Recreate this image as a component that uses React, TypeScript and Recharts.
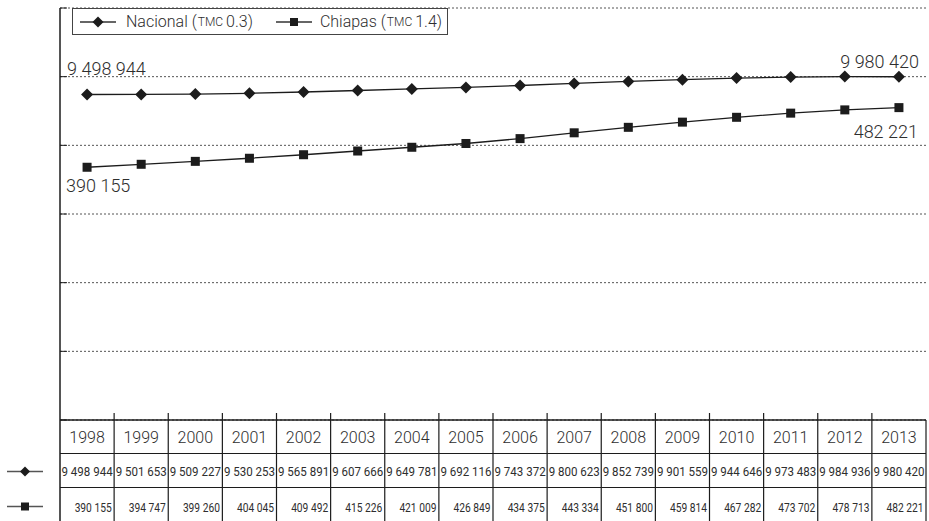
import React from "react"
import { LineChart, Line, XAxis, YAxis, CartesianGrid, Legend, LabelList } from "recharts"

const years = ["1998", "1999", "2000", "2001", "2002", "2003", "2004", "2005", "2006", "2007", "2008", "2009", "2010", "2011", "2012", "2013"]
const nacional = [9498944, 9501653, 9509227, 9530253, 9565891, 9607666, 9649781, 9692116, 9743372, 9800623, 9852739, 9901559, 9944646, 9973483, 9984936, 9980420]
const chiapas = [390155, 394747, 399260, 404045, 409492, 415226, 421009, 426849, 434375, 443334, 451800, 459814, 467282, 473702, 478713, 482221]
const seriesNames = ["Nacional", "Chiapas"]
const seriesTmc = ["0.3", "1.4"]
const chiapasTicks = [0, 106000, 212000, 318000, 424000, 530000, 636000]

const data = years.map((year, i) => ({ year, nacional: nacional[i], chiapas: chiapas[i] }))

const FONT = "Roboto, Lato, sans-serif"
const WEIGHT = 300
const TEXT = "#2e2e2e"
const INK = "#1c1c1c"
const PLOT_LEFT = 60
const PLOT_RIGHT = 926
const colW = (PLOT_RIGHT - PLOT_LEFT) / years.length

const fmt = (v: number) => String(v).replace(/\B(?=(\d{3})+(?!\d))/g, " ")

const diamondPath = (cx: number, cy: number, r: number) =>
  `M${cx},${cy - r}L${cx + r},${cy}L${cx},${cy + r}L${cx - r},${cy}Z`

const DiamondDot = (p: any) => (
  <path key={`nd-${p.index}`} d={diamondPath(p.cx, p.cy, 6)} fill={INK} stroke="none" />
)
const SquareDot = (p: any) => (
  <rect key={`cd-${p.index}`} x={p.cx - 4.5} y={p.cy - 4.5} width={9} height={9} fill={INK} />
)

const labelText = (x: number, y: number, anchor: string, value: number) => (
  <text x={x} y={y} textAnchor={anchor} fontFamily={FONT} fontWeight={WEIGHT} fontSize={18} fill={TEXT}>
    {fmt(value)}
  </text>
)

const NacionalLabel = (p: any) => {
  const { x, y, index, value } = p
  if (index === 0) return labelText(x - 20, y - 19, "start", value)
  if (index === years.length - 1) return labelText(x + 20, y - 9, "end", value)
  return null
}

const ChiapasLabel = (p: any) => {
  const { x, y, index, value } = p
  if (index === 0) return labelText(x - 21, y + 25, "start", value)
  if (index === years.length - 1) return labelText(x + 19, y + 30, "end", value)
  return null
}

// table under the plot, one column per year
const TableTick = (p: any) => {
  const { x, y, index, payload } = p
  const left = x - colW / 2
  const right = x + colW / 2
  const r1 = y + 33.5
  const r2 = y + 67.5
  const last = index === years.length - 1
  return (
    <g>
      {!last && <line x1={right} x2={right} y1={y - 7} y2={y} stroke={INK} strokeWidth={1.2} />}
      <line x1={right} x2={right} y1={y} y2={y + 110} stroke={INK} strokeWidth={1.2} />
      {index === 0 && <line x1={left} x2={left} y1={y} y2={y + 110} stroke={INK} strokeWidth={1.5} />}
      <line x1={left} x2={right} y1={r1} y2={r1} stroke={INK} strokeWidth={1} />
      <line x1={left} x2={right} y1={r2} y2={r2} stroke={INK} strokeWidth={1} />
      <text x={x} y={y + 23} textAnchor="middle" fontFamily={FONT} fontWeight={WEIGHT} fontSize={16} fill={TEXT}>
        {payload.value}
      </text>
      <text x={left + 1.5} y={y + 56} textLength={colW - 3} lengthAdjust="spacingAndGlyphs" fontFamily={FONT} fontSize={13} fill={TEXT}>
        {fmt(nacional[index])}
      </text>
      <text x={right - 39.5} y={y + 92} textLength={37} lengthAdjust="spacingAndGlyphs" fontFamily={FONT} fontSize={13} fill={TEXT}>
        {fmt(chiapas[index])}
      </text>
      {index === 0 && (
        <g>
          <line x1={7} x2={43} y1={y + 51.5} y2={y + 51.5} stroke="#555" strokeWidth={1.5} />
          <path d={diamondPath(25, y + 51.5, 5)} fill={INK} />
          <line x1={7} x2={43} y1={y + 86.5} y2={y + 86.5} stroke="#555" strokeWidth={1.5} />
          <rect x={21} y={y + 82.5} width={8} height={8} fill={INK} />
        </g>
      )}
    </g>
  )
}

const HiddenTick = () => <g />

const LegendBox = () => (
  <div
    style={{
      width: 376,
      height: 27,
      boxSizing: "border-box",
      border: "1px solid #444",
      background: "#fff",
      display: "flex",
      alignItems: "center",
      fontFamily: FONT,
      fontWeight: WEIGHT,
      fontSize: 16,
      color: TEXT,
      whiteSpace: "nowrap",
    }}
  >
    {seriesNames.map((name, i) => (
      <span key={name} style={{ display: "flex", alignItems: "center", marginLeft: i === 0 ? 6 : 22 }}>
        <svg width={38} height={14} style={{ marginRight: i === 0 ? 9 : 7 }}>
          <line x1={1} x2={37} y1={7} y2={7} stroke="#333" strokeWidth={1.3} />
          {i === 0 ? <path d={diamondPath(19, 7, 5.5)} fill={INK} /> : <rect x={15} y={3} width={8} height={8} fill={INK} />}
        </svg>
        {name} (<span style={{ fontSize: 12, margin: "0 3px 0 1px" }}>TMC</span>{seriesTmc[i]})
      </span>
    ))}
  </div>
)

export default function App() {
  return (
    <div style={{ position: "absolute", left: 0, top: 0, background: "#fff" }}>
      <LineChart width={929} height={521} data={data} margin={{ top: 8, right: 3, bottom: 0, left: PLOT_LEFT }}>
        <CartesianGrid yAxisId="chi" vertical={false} stroke="#555" strokeDasharray="2 2" />
        <XAxis
          dataKey="year"
          interval={0}
          height={101}
          padding={{ left: colW / 2, right: colW / 2 }}
          tickLine={false}
          tickSize={0}
          tickMargin={0}
          axisLine={{ stroke: INK, strokeWidth: 1.5 }}
          tick={<TableTick />}
        />
        <YAxis
          yAxisId="chi"
          mirror
          width={20}
          domain={[0, 636000]}
          ticks={chiapasTicks}
          interval={0}
          tick={<HiddenTick />}
          tickSize={7}
          tickLine={{ stroke: INK }}
          axisLine={{ stroke: INK, strokeWidth: 1.5 }}
        />
        <YAxis yAxisId="nac" hide domain={[650000, 11850000]} />
        <Legend
          verticalAlign="middle"
          align="center"
          layout="horizontal"
          wrapperStyle={{ left: 72, top: 8, width: "auto", height: "auto" }}
          content={() => <LegendBox />}
        />
        <Line
          yAxisId="nac"
          dataKey="nacional"
          name={seriesNames[0]}
          stroke={INK}
          strokeWidth={1.3}
          dot={DiamondDot}
          activeDot={false}
          isAnimationActive={false}
        >
          <LabelList dataKey="nacional" content={NacionalLabel} />
        </Line>
        <Line
          yAxisId="chi"
          dataKey="chiapas"
          name={seriesNames[1]}
          stroke={INK}
          strokeWidth={1.3}
          dot={SquareDot}
          activeDot={false}
          isAnimationActive={false}
        >
          <LabelList dataKey="chiapas" content={ChiapasLabel} />
        </Line>
      </LineChart>
    </div>
  )
}
